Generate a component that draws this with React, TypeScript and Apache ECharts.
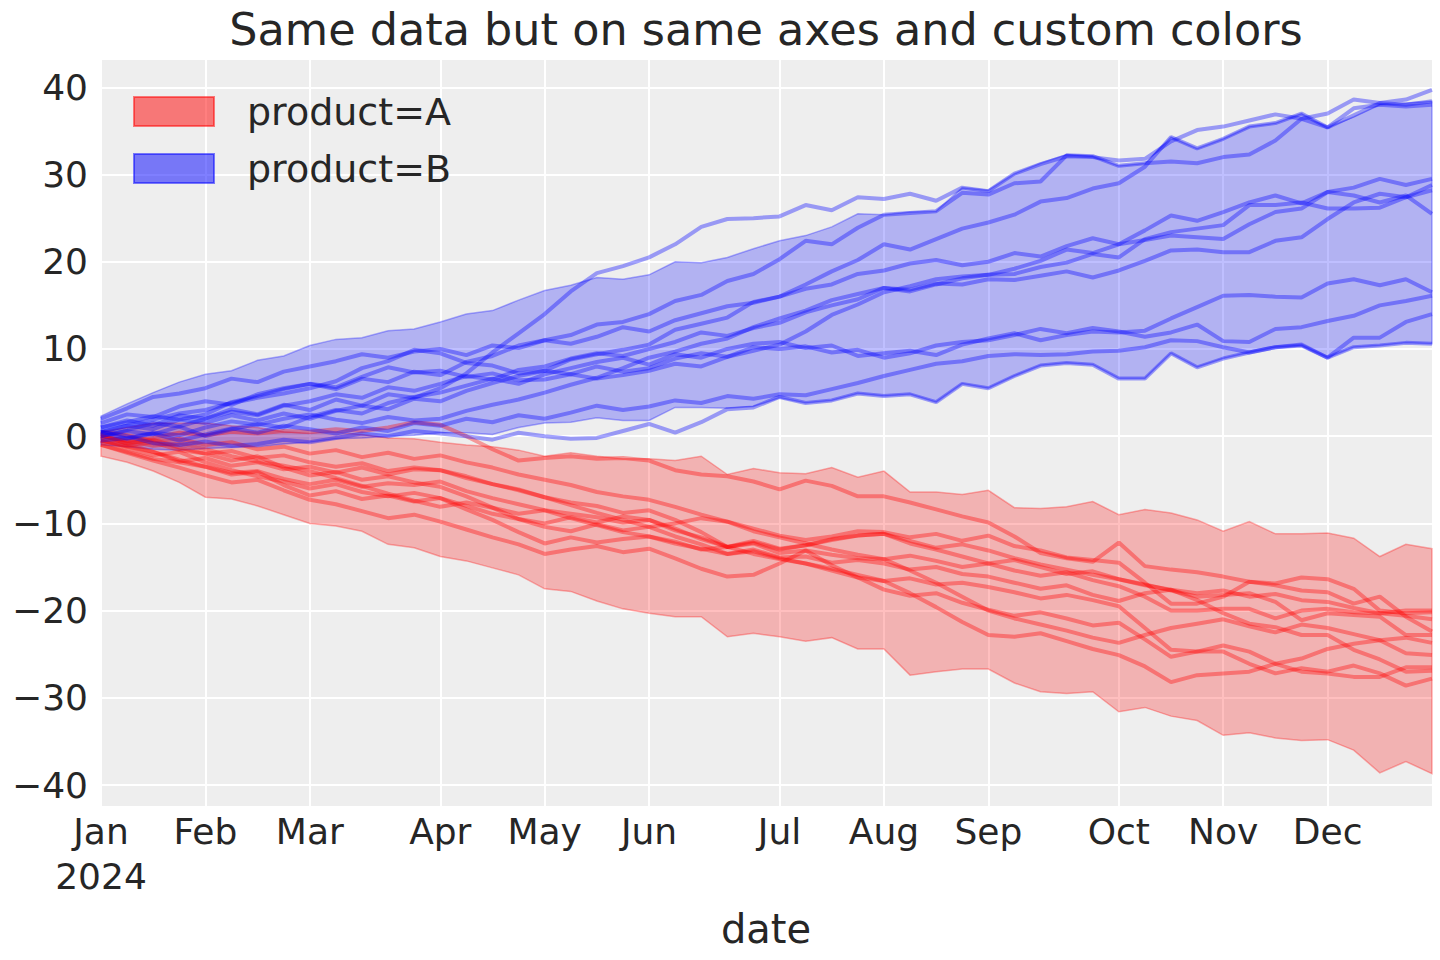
import { useRef, useEffect } from 'react';
import * as echarts from 'echarts';

// weekly points, Jan 1 2024 .. Dec 23 2024
const weekCount = 52;
const weeks: string[] = Array.from({ length: weekCount }, (_, i) =>
    new Date(Date.UTC(2024, 0, 1) + i * 7 * 86400000).toISOString().slice(0, 10)
);

const monthTickIndex = [0, 4, 8, 13, 17, 21, 26, 30, 34, 39, 43, 47];
const monthTickLabels = ['Jan\n2024', 'Feb', 'Mar', 'Apr', 'May', 'Jun', 'Jul', 'Aug', 'Sep', 'Oct', 'Nov', 'Dec'];

// product A (red) hdi band
const bandAUpper = [0.5, 1.0, 1.5, 1.5, 1.5, 1.2, 1.0, 0.5, 0.3, 0.5, 0.2, -0.2, -0.3, -0.7, -1.0, -1.2, -1.6, -2.3, -1.9, -2.3, -2.6, -2.6, -2.8, -2.3, -4.4, -3.7, -4.2, -4.3, -3.6, -4.7, -4.0, -6.4, -6.4, -6.7, -6.2, -8.2, -8.3, -8.1, -7.5, -9.0, -8.4, -8.8, -9.6, -10.9, -9.8, -11.2, -11.2, -11.1, -11.7, -13.8, -12.4, -12.9];
const bandALower = [-2.3, -3.0, -4.0, -5.3, -7.0, -7.2, -8.0, -9.0, -10.0, -10.3, -10.9, -12.4, -12.8, -13.8, -14.3, -15.1, -15.9, -17.5, -17.8, -18.9, -19.8, -20.3, -20.7, -20.7, -23.0, -22.6, -23.0, -23.5, -23.1, -24.4, -24.4, -27.4, -27.0, -26.7, -26.7, -28.3, -29.3, -29.5, -29.3, -31.6, -31.1, -32.1, -32.6, -34.3, -34.0, -34.6, -34.9, -34.8, -36.0, -38.6, -37.3, -38.7];

// product B (blue) hdi band
const bandBUpper = [2.3, 3.7, 5.0, 6.2, 7.1, 7.5, 8.7, 9.2, 10.4, 11.1, 11.3, 12.1, 12.3, 13.1, 14.0, 14.4, 15.6, 16.7, 17.3, 18.2, 18.0, 18.5, 20.0, 19.9, 20.5, 21.5, 22.4, 23.0, 24.0, 25.5, 25.4, 25.7, 25.8, 28.5, 28.2, 30.1, 31.3, 32.3, 32.1, 31.0, 31.3, 34.3, 33.0, 34.1, 35.5, 35.9, 37.0, 35.4, 36.6, 38.0, 38.2, 38.4];
const bandBLower = [-1.0, -1.2, -1.5, -1.6, -1.4, -1.3, -1.2, -0.9, -0.7, -0.3, -0.2, 0.0, 0.1, 0.4, 0.4, 0.2, 1.0, 1.5, 1.6, 2.1, 1.8, 1.8, 3.3, 3.3, 3.2, 3.4, 4.4, 3.8, 4.1, 4.9, 4.6, 4.8, 3.9, 6.0, 5.5, 6.9, 8.1, 8.4, 8.2, 6.6, 6.6, 9.5, 7.9, 8.9, 9.6, 10.2, 10.4, 9.0, 10.2, 10.4, 10.7, 10.6];

// product A draws
const linesA: number[][] = [
    [0.0, -0.6, -0.2, 0.4, 0.1, 0.5, 0.3, 0.6, 0.5, 0.8, 0.6, 1.0, 1.6, 1.3, 0.0, -1.5, -2.8, -2.5, -2.3, -2.6, -2.5, -2.8, -3.9, -4.4, -4.6, -5.2, -6.1, -5.1, -5.7, -6.9, -6.9, -7.6, -8.4, -9.2, -9.9, -11.5, -13.4, -14.0, -14.4, -12.2, -14.9, -15.3, -15.6, -16.1, -16.7, -17.1, -17.7, -17.9, -19.2, -18.4, -20.7, -22.4],
    [0.5, 0.1, -0.6, -0.3, -1.0, -0.7, -1.5, -1.2, -2.0, -1.6, -2.4, -1.9, -2.6, -2.2, -3.0, -3.6, -4.4, -5.0, -5.6, -6.4, -6.9, -7.3, -8.1, -9.0, -9.8, -10.6, -11.4, -11.9, -11.5, -10.9, -11.0, -11.6, -11.2, -12.0, -11.4, -12.6, -13.1, -13.9, -14.2, -14.5, -16.8, -19.2, -19.2, -18.4, -16.7, -16.9, -16.2, -16.4, -17.5, -20.0, -20.3, -20.2],
    [-0.5, -1.2, -1.8, -2.9, -2.5, -3.4, -3.0, -3.8, -3.5, -4.2, -3.6, -4.4, -3.8, -3.9, -4.6, -5.5, -6.1, -7.0, -7.6, -8.0, -8.8, -8.5, -9.6, -11.0, -12.7, -12.2, -13.0, -12.5, -11.8, -11.4, -11.2, -12.0, -12.8, -12.4, -13.1, -14.0, -14.7, -15.3, -15.9, -16.4, -17.0, -17.7, -18.4, -18.2, -18.0, -19.0, -21.1, -20.3, -20.5, -20.7, -22.8, -22.8],
    [-1.0, -1.8, -2.6, -3.0, -3.5, -4.2, -4.0, -4.9, -5.5, -5.0, -5.8, -5.4, -5.6, -5.2, -6.3, -7.1, -7.8, -8.5, -8.9, -9.3, -9.9, -9.6, -10.8, -11.6, -12.7, -12.3, -13.4, -13.1, -13.6, -14.0, -14.1, -13.7, -14.3, -15.0, -14.6, -15.4, -16.0, -15.6, -16.5, -17.2, -18.4, -20.0, -20.0, -19.8, -19.8, -20.9, -20.0, -19.8, -20.2, -20.3, -20.0, -20.0],
    [0.0, -0.8, -0.4, -1.3, -2.0, -2.8, -2.3, -3.6, -4.5, -4.1, -5.0, -4.6, -5.3, -5.8, -6.9, -8.2, -9.5, -10.4, -10.9, -10.1, -10.8, -10.4, -11.5, -12.4, -13.5, -13.0, -13.9, -13.8, -14.5, -14.2, -14.6, -15.3, -15.0, -15.8, -16.1, -16.8, -17.5, -17.1, -18.2, -18.9, -18.0, -17.6, -18.8, -20.3, -21.5, -21.9, -22.8, -22.8, -24.5, -25.6, -27.0, -26.9],
    [-0.5, -1.4, -2.2, -1.8, -3.0, -3.9, -4.6, -5.2, -6.0, -5.5, -6.4, -6.9, -6.5, -7.1, -8.4, -9.6, -11.0, -12.3, -11.6, -12.2, -11.8, -11.5, -12.1, -13.0, -12.7, -13.5, -14.1, -14.6, -15.2, -15.9, -16.6, -16.3, -17.0, -16.8, -17.3, -17.9, -18.6, -18.2, -18.8, -19.5, -22.0, -24.5, -24.7, -24.0, -24.7, -26.1, -27.0, -27.2, -27.6, -27.6, -26.5, -26.5],
    [-1.0, -1.9, -2.8, -3.6, -4.5, -5.3, -5.0, -6.2, -7.3, -7.8, -8.6, -9.4, -9.0, -9.8, -10.7, -11.6, -12.4, -13.5, -13.0, -12.6, -13.3, -12.9, -14.0, -15.2, -16.1, -15.9, -14.6, -13.1, -14.8, -16.2, -17.6, -18.3, -18.0, -19.1, -19.9, -20.6, -20.2, -20.9, -21.7, -21.4, -23.3, -25.3, -24.7, -24.7, -26.1, -27.2, -26.6, -27.0, -26.3, -27.2, -28.6, -27.8],
    [0.0, -0.5, -1.1, -0.8, -1.5, -2.3, -2.9, -3.4, -4.0, -4.8, -5.7, -6.6, -7.4, -8.1, -7.6, -8.2, -8.9, -8.5, -9.4, -10.2, -11.0, -11.5, -12.3, -12.9, -13.5, -13.2, -14.0, -14.6, -15.4, -16.2, -16.6, -18.0, -19.6, -21.3, -22.8, -23.0, -22.6, -23.5, -24.4, -25.1, -26.4, -28.2, -27.4, -27.2, -27.0, -26.1, -25.5, -24.4, -23.8, -23.4, -24.9, -25.1],
    [-0.5, -1.1, -0.7, -1.6, -2.0, -1.7, -2.5, -2.2, -3.0, -3.5, -3.1, -4.0, -3.6, -3.9, -4.8, -5.5, -6.2, -7.0, -7.9, -8.8, -9.6, -10.4, -10.0, -9.4, -9.8, -10.9, -11.6, -12.3, -13.0, -13.6, -14.1, -15.4, -16.8, -18.4, -20.0, -20.9, -21.6, -22.3, -23.1, -23.7, -22.8, -22.0, -21.5, -21.0, -21.8, -22.5, -21.6, -22.0, -22.7, -23.4, -23.1, -23.7],
    [0.2, -0.9, -1.8, -2.7, -3.5, -4.4, -4.1, -5.6, -6.8, -6.3, -7.2, -6.8, -7.5, -7.1, -8.0, -8.9, -9.5, -10.0, -9.3, -9.9, -9.2, -9.6, -10.6, -11.8, -12.7, -12.0, -12.9, -12.5, -11.9, -11.4, -11.2, -12.3, -13.0, -13.8, -14.6, -14.2, -15.0, -15.8, -15.5, -16.4, -17.1, -17.6, -18.0, -17.7, -18.4, -18.1, -18.8, -19.0, -19.7, -20.3, -20.6, -21.0],
];

// product B draws
const linesB: number[][] = [
    [1.0, 1.8, 1.2, 2.4, 2.0, 3.1, 2.5, 3.6, 3.0, 4.2, 3.5, 4.8, 4.4, 5.5, 7.2, 9.6, 11.8, 14.0, 16.6, 18.7, 19.5, 20.5, 22.0, 24.0, 24.9, 25.0, 25.2, 26.5, 25.9, 27.4, 27.2, 27.8, 27.0, 28.5, 28.1, 30.1, 31.2, 32.1, 32.0, 31.6, 31.8, 33.8, 35.1, 35.5, 36.2, 36.9, 36.4, 37.0, 38.6, 38.2, 38.6, 39.7],
    [1.5, 2.5, 2.2, 3.4, 4.0, 3.6, 4.8, 5.5, 6.0, 5.4, 6.6, 6.2, 7.4, 7.0, 8.5, 9.2, 10.4, 11.0, 11.6, 12.8, 13.1, 14.0, 15.5, 16.2, 17.8, 18.6, 20.3, 22.4, 22.0, 23.9, 25.4, 25.6, 25.8, 27.9, 27.7, 29.0, 29.2, 32.2, 32.1, 31.0, 31.3, 31.5, 31.3, 32.0, 32.3, 33.9, 36.4, 35.4, 36.8, 38.2, 38.0, 38.4],
    [2.0, 3.2, 4.5, 4.9, 5.5, 6.6, 6.2, 7.4, 8.0, 8.6, 9.4, 9.0, 9.7, 10.0, 9.3, 10.4, 10.1, 11.0, 10.6, 11.4, 12.5, 12.0, 13.3, 14.1, 14.9, 15.3, 16.0, 17.4, 18.9, 20.2, 22.0, 21.4, 22.6, 23.8, 24.5, 25.4, 26.9, 27.3, 28.4, 29.0, 30.9, 34.3, 33.0, 34.1, 35.5, 35.9, 37.0, 35.4, 37.6, 38.0, 37.8, 38.0],
    [0.5, 1.2, 1.9, 2.6, 3.0, 3.8, 4.4, 4.9, 5.5, 6.3, 7.8, 8.6, 9.9, 9.5, 8.4, 8.1, 7.2, 7.5, 8.8, 9.4, 9.9, 10.5, 12.2, 12.9, 13.6, 15.4, 16.0, 16.9, 17.4, 18.6, 19.0, 19.8, 20.2, 19.6, 20.0, 21.0, 20.6, 21.8, 22.7, 22.0, 23.6, 25.3, 24.7, 25.7, 26.8, 27.6, 26.7, 28.0, 28.5, 29.5, 28.8, 29.5],
    [0.0, 0.7, 1.5, 1.1, 2.0, 2.8, 2.4, 3.5, 4.0, 4.8, 4.4, 5.6, 5.2, 6.0, 6.9, 6.5, 7.6, 8.0, 8.9, 9.5, 9.2, 10.0, 10.8, 11.9, 11.5, 12.4, 13.0, 14.2, 15.0, 15.7, 17.0, 16.6, 17.4, 18.1, 18.5, 18.6, 19.4, 19.9, 20.9, 20.5, 22.6, 23.4, 23.8, 24.2, 26.5, 26.5, 26.8, 26.1, 26.1, 26.2, 27.4, 28.2],
    [1.0, 1.6, 2.3, 1.9, 2.5, 3.9, 4.6, 5.4, 6.0, 5.6, 6.8, 7.9, 7.3, 7.5, 6.8, 7.2, 6.4, 6.5, 7.1, 6.6, 7.0, 7.5, 8.3, 8.0, 9.1, 9.8, 10.5, 12.0, 13.9, 15.1, 16.5, 17.2, 18.0, 18.3, 18.5, 19.2, 20.1, 21.4, 21.0, 22.0, 22.5, 23.0, 22.8, 22.6, 24.3, 25.7, 26.1, 28.0, 27.6, 26.8, 27.6, 25.5],
    [-0.5, -0.2, 0.4, 0.1, 1.0, 1.7, 1.3, 2.0, 2.5, 1.9, 1.5, 2.2, 1.8, 2.0, 2.9, 3.6, 4.2, 5.0, 5.9, 6.7, 7.8, 9.0, 9.7, 10.6, 11.2, 12.5, 13.5, 14.4, 15.6, 16.3, 17.0, 16.8, 17.5, 17.4, 18.0, 17.9, 18.4, 18.9, 18.2, 19.0, 20.1, 21.3, 21.4, 21.1, 21.1, 22.4, 22.8, 24.9, 26.8, 27.8, 27.4, 28.8],
    [0.5, 1.2, 0.8, 1.9, 1.5, 2.4, 1.8, 2.6, 2.0, 2.9, 3.5, 3.1, 4.3, 4.0, 5.2, 6.1, 6.9, 7.5, 7.1, 8.0, 7.4, 7.8, 8.9, 9.5, 9.1, 10.2, 10.0, 10.3, 9.6, 9.9, 9.0, 9.5, 10.4, 10.8, 11.0, 11.6, 12.3, 11.8, 12.4, 12.0, 11.4, 11.9, 12.8, 10.9, 10.8, 12.3, 12.5, 13.2, 13.8, 15.0, 15.5, 16.1],
    [0.0, 0.6, 0.2, 1.1, 0.0, 0.8, 1.4, 1.0, 2.2, 3.0, 2.6, 3.8, 4.5, 5.0, 5.8, 6.6, 6.0, 7.1, 7.8, 8.5, 9.0, 8.2, 9.4, 9.0, 10.0, 10.6, 10.8, 10.1, 10.4, 9.2, 9.5, 9.8, 9.3, 10.5, 11.2, 11.8, 11.0, 11.6, 12.0, 11.9, 12.1, 13.5, 14.8, 16.1, 16.2, 16.0, 15.9, 17.5, 18.0, 17.3, 18.0, 16.5],
    [0.5, -0.3, 0.3, -0.5, 0.2, 0.9, 0.4, 1.2, 0.8, 0.3, 1.0, 0.6, 1.5, 1.2, 2.0, 1.6, 2.4, 2.0, 2.7, 3.5, 3.0, 3.4, 4.1, 3.8, 4.6, 4.3, 4.8, 4.7, 5.4, 6.1, 6.9, 7.6, 8.3, 8.6, 9.2, 9.4, 9.3, 9.4, 9.7, 9.8, 10.2, 11.0, 10.9, 10.2, 9.6, 10.2, 10.5, 9.0, 11.3, 11.3, 13.1, 14.0],
    [0.5, 0.0, -0.8, -1.0, -0.6, -1.1, -0.9, -0.4, -0.7, -0.2, 0.3, 0.0, 0.6, 0.3, 0.0, -0.4, 0.4, 0.0, -0.3, -0.2, 0.6, 1.4, 0.4, 1.6, 3.1, 3.3, 4.5, 3.8, 4.1, 4.9, 4.6, 4.8, 3.9, 6.0, 5.5, 6.9, 8.1, 8.4, 8.2, 6.6, 6.6, 9.5, 7.9, 8.9, 9.6, 10.2, 10.4, 9.0, 10.2, 10.4, 10.7, 10.6],
];

const FONT = 'DejaVu Sans';
const INK = '#262626';

const bandSeries = (name: string, upper: number[], lower: number[], rgb: string) => ({
    type: 'custom',
    name,
    silent: true,
    data: [[0, 0]],
    renderItem: (_params: any, api: any) => {
        const points: number[][] = [];
        upper.forEach((v, i) => points.push(api.coord([i, v])));
        for (let i = lower.length - 1; i >= 0; i--) points.push(api.coord([i, lower[i]]));
        return {
            type: 'polygon',
            shape: { points },
            style: { fill: `rgba(${rgb},0.25)`, stroke: `rgba(${rgb},0.3)`, lineWidth: 1.5 },
        };
    },
});

const lineSeries = (values: number[], rgb: string) => ({
    type: 'line',
    data: values,
    symbol: 'none',
    silent: true,
    lineStyle: { color: `rgba(${rgb},0.36)`, width: 4 },
    itemStyle: { color: `rgba(${rgb},0.36)` },
    emphasis: { disabled: true },
});

const App = () => {
    const chartRef = useRef<HTMLDivElement>(null);

    useEffect(() => {
        if (!chartRef.current) return;
        const chart = echarts.init(chartRef.current, undefined, { renderer: 'svg' });
        const isMonth = (i: number) => monthTickIndex.includes(i);

        const option: any = {
            animation: false,
            backgroundColor: '#ffffff',
            grid: {
                left: 101, right: 8, top: 59, bottom: 153,
                show: true, backgroundColor: '#EEEEEE', borderWidth: 0,
            },
            xAxis: {
                type: 'category',
                data: weeks,
                boundaryGap: false,
                axisLine: { show: false },
                axisTick: { show: false },
                splitLine: { show: true, interval: isMonth, lineStyle: { color: '#ffffff', width: 2 } },
                axisLabel: {
                    interval: isMonth,
                    formatter: (_v: string, i: number) => monthTickLabels[monthTickIndex.indexOf(i)] ?? '',
                    fontSize: 36, fontFamily: FONT, color: INK, lineHeight: 45, margin: 2,
                },
            },
            yAxis: {
                type: 'value',
                min: -42.52,
                max: 43.25,
                splitNumber: 8,
                axisLine: { show: false },
                axisTick: { show: false },
                splitLine: { lineStyle: { color: '#ffffff', width: 2 } },
                axisLabel: {
                    showMinLabel: false, showMaxLabel: false,
                    formatter: (v: number) => String(v).replace('-', '\u2212'),
                    fontSize: 36, fontFamily: FONT, color: INK, margin: 13,
                },
            },
            series: [
                bandSeries('product=A', bandAUpper, bandALower, '255,0,0'),
                ...linesA.map((l) => lineSeries(l, '255,0,0')),
                bandSeries('product=B', bandBUpper, bandBLower, '0,0,255'),
                ...linesB.map((l) => lineSeries(l, '0,0,255')),
            ],
            graphic: [
                {
                    type: 'text', x: 766, y: 29, z: 100,
                    style: { text: 'Same data but on same axes and custom colors', font: `44.5px "${FONT}"`, fill: INK, align: 'center', verticalAlign: 'middle' },
                },
                {
                    type: 'text', x: 766, y: 929, z: 100,
                    style: { text: 'date', font: `40px "${FONT}"`, fill: INK, align: 'center', verticalAlign: 'middle' },
                },
                {
                    type: 'rect', z: 100, shape: { x: 134, y: 97, width: 80, height: 29 },
                    style: { fill: 'rgba(255,0,0,0.5)', stroke: 'rgba(255,0,0,0.5)', lineWidth: 2 },
                },
                {
                    type: 'text', x: 247, y: 112, z: 100,
                    style: { text: 'product=A', font: `38px "${FONT}"`, fill: INK, align: 'left', verticalAlign: 'middle' },
                },
                {
                    type: 'rect', z: 100, shape: { x: 134, y: 154, width: 80, height: 29 },
                    style: { fill: 'rgba(0,0,255,0.5)', stroke: 'rgba(0,0,255,0.5)', lineWidth: 2 },
                },
                {
                    type: 'text', x: 247, y: 169, z: 100,
                    style: { text: 'product=B', font: `38px "${FONT}"`, fill: INK, align: 'left', verticalAlign: 'middle' },
                },
            ],
        };

        chart.setOption(option);

        return () => {
            chart.dispose();
        };
    }, []);

    return (
        <div
            ref={chartRef}
            style={{ position: 'absolute', left: 0, top: 0, width: '1440px', height: '960px' }}
        />
    );
};

export default App;
